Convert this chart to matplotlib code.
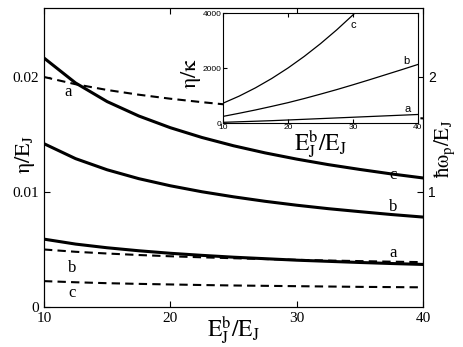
import numpy as np
import matplotlib
matplotlib.use('Agg')
import matplotlib.pyplot as plt

plt.rcParams['mathtext.fontset'] = 'stix'
plt.rcParams['font.family'] = 'Liberation Serif'

# E_J^b / E_J
x = [10, 12.5, 15, 17.5, 20, 22.5, 25, 27.5, 30, 32.5, 35, 37.5, 40]

# eta / E_J (solid, left axis)
eta_a = [0.00590, 0.00547, 0.00515, 0.00489, 0.00467, 0.00449, 0.00433,
         0.00420, 0.00407, 0.00397, 0.00387, 0.00378, 0.00370]
eta_b = [0.01420, 0.01290, 0.01193, 0.01116, 0.01054, 0.01002, 0.00958,
         0.00919, 0.00885, 0.00855, 0.00829, 0.00804, 0.00782]
eta_c = [0.02165, 0.01948, 0.01786, 0.01661, 0.01559, 0.01474, 0.01402,
         0.01340, 0.01286, 0.01238, 0.01196, 0.01157, 0.01122]

# hbar omega_p / E_J (dashed, right axis)
wp_a = [2.000, 1.937, 1.887, 1.846, 1.811, 1.781, 1.754,
        1.731, 1.709, 1.690, 1.672, 1.656, 1.640]
wp_b = [0.500, 0.480, 0.465, 0.452, 0.441, 0.432, 0.424,
        0.417, 0.410, 0.404, 0.399, 0.394, 0.390]
wp_c = [0.225, 0.215, 0.207, 0.201, 0.196, 0.191, 0.187,
        0.184, 0.181, 0.178, 0.175, 0.173, 0.171]

# inset: eta / kappa
ek_a = [25, 45, 65, 85, 110, 135, 160, 185, 210, 235, 260, 285, 310]
ek_b = [240, 355, 475, 605, 740, 890, 1050, 1215, 1390, 1570, 1755, 1940, 2130]
ek_c = [720, 979, 1279, 1619, 2000, 2422, 2885, 3388, 3932, 4517]

fig = plt.figure(figsize=(4.63, 3.47), dpi=100)
ax = fig.add_axes([0.095, 0.1153, 0.8186, 0.8617])

ax.plot(x, eta_c, 'k-', lw=2.2)
ax.plot(x, eta_b, 'k-', lw=2.2)
ax.plot(x, eta_a, 'k-', lw=2.2)
ax.set_xlim(10, 40)
ax.set_ylim(0, 0.026)
ax.set_xticks([10, 20, 30, 40])
ax.set_yticks([0, 0.01, 0.02])
ax.set_yticklabels(['0', '0.01', '0.02'])
ax.tick_params(direction='in', length=4, labelsize=11, top=True)
ax.set_xlabel(r'$\mathrm{E_J^b/E_J}$', fontsize=17)
ax.xaxis.set_label_coords(0.5, -0.077)
ax.xaxis.label.set_va('center')
ax.set_ylabel(r'$\mathrm{\eta/E_J}$', fontsize=16)
ax.yaxis.set_label_coords(-0.05, 0.51)
ax.yaxis.label.set_va('center')

ax2 = ax.twinx()
dash = (4, 2.5)
ax2.plot(x, wp_a, 'k--', lw=1.5, dashes=dash)
ax2.plot(x, wp_b, 'k--', lw=1.5, dashes=dash)
ax2.plot(x, wp_c, 'k--', lw=1.5, dashes=dash)
ax2.set_ylim(0, 2.6)
ax2.set_yticks([1, 2])
ax2.tick_params(direction='in', length=4)
for t in ax2.get_yticklabels():
    t.set_family('Liberation Sans')
    t.set_fontsize(10)
ax2.set_ylabel(r'$\mathrm{\hbar\omega_p/E_J}$', fontsize=15)
ax2.yaxis.set_label_coords(1.058, 0.53)
ax2.yaxis.label.set_va('center')

# curve labels
ax.text(11.9, 0.0187, 'a', fontsize=12, ha='center', va='center')
ax.text(37.6, 0.0115, 'c', fontsize=12, ha='center', va='center')
ax.text(37.6, 0.0087, 'b', fontsize=12, ha='center', va='center')
ax.text(37.6, 0.0047, 'a', fontsize=12, ha='center', va='center')
ax.text(12.2, 0.0034, 'b', fontsize=12, ha='center', va='center')
ax.text(12.2, 0.0012, 'c', fontsize=12, ha='center', va='center')

# inset
ins = fig.add_axes([0.4816, 0.6455, 0.4212, 0.317])
ins.set_facecolor('white')
ins.plot(x, ek_a, 'k-', lw=0.9)
ins.plot(x, ek_b, 'k-', lw=0.9)
ins.plot(x[:len(ek_c)], ek_c, 'k-', lw=0.9)
ins.set_xlim(10, 40)
ins.set_ylim(0, 4000)
ins.set_xticks([10, 20, 30, 40])
ins.set_yticks([0, 2000, 4000])
ins.tick_params(direction='in', length=3, pad=1, labelsize=6, top=True)
for t in ins.get_xticklabels() + ins.get_yticklabels():
    t.set_family('Liberation Sans')
ins.set_xlabel(r'$\mathrm{E_J^b/E_J}$', fontsize=17)
ins.xaxis.set_label_coords(0.5, -0.19)
ins.xaxis.label.set_va('center')
ins.set_ylabel(r'$\mathrm{\eta/\kappa}$', fontsize=16)
ins.yaxis.set_label_coords(-0.165, 0.45)
ins.yaxis.label.set_va('center')
ins.text(30.0, 3550, 'c', fontsize=8, family='Liberation Sans', ha='center', va='center')
ins.text(38.2, 2250, 'b', fontsize=8, family='Liberation Sans', ha='center', va='center')
ins.text(38.4, 500, 'a', fontsize=8, family='Liberation Sans', ha='center', va='center')

fig.savefig('out.png', dpi=100)
